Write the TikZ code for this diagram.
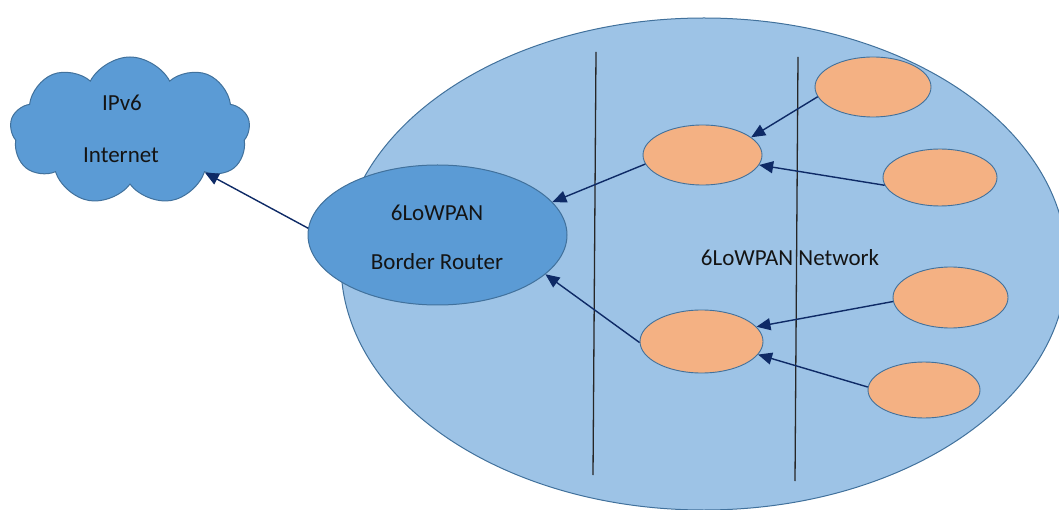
\documentclass[tikz,border=0pt]{standalone}
\usepackage{fontspec}
\setmainfont{Carlito}
\usetikzlibrary{shapes.geometric,shapes.symbols,arrows.meta}
\definecolor{netfill}{HTML}{9DC3E6}
\definecolor{bluefill}{HTML}{5B9BD5}
\definecolor{orangefill}{HTML}{F4B183}
\definecolor{outline}{HTML}{41719C}
\definecolor{navy}{HTML}{0E2A66}
\definecolor{txt}{HTML}{141414}
\begin{document}
\begin{tikzpicture}[x=1pt,y=-1pt,
  netshape/.style={ellipse, draw=outline, fill=netfill, line width=1pt, inner sep=0pt},
  routershape/.style={ellipse, draw=outline, fill=bluefill, line width=1pt, inner sep=0pt},
  cloudshape/.style={cloud, draw=outline, fill=bluefill, line width=1pt, inner sep=0pt, cloud puffs=9, cloud puff arc=125, aspect=1.6},
  sensor/.style={ellipse, draw=outline, fill=orangefill, line width=0.9pt, inner sep=0pt},
  link/.style={draw=navy, line width=1.4pt, -{Triangle[length=14pt,width=12pt]}},
  divider/.style={draw=black!85, line width=1.3pt},
  lbl/.style={font=\fontsize{23}{27}\selectfont, text=txt, inner sep=0pt}]
\clip (0,0) rectangle (1059,510);
% network area
\node[netshape, minimum width=726pt, minimum height=492pt] (net) at (704,264) {};
\node[lbl] (netlabel) at (790,258) {6LoWPAN Network};
% dividers
\coordinate (v1t) at (596,52);
\coordinate (v1b) at (593,475);
\coordinate (v2t) at (798,57);
\coordinate (v2b) at (795,481);
\draw[divider] (v1t) -- (v1b);
\draw[divider] (v2t) -- (v2b);
% cloud
\node[cloudshape, minimum width=240pt, minimum height=148pt] (cloud) at (130,131) {};
\node[lbl] (ipv6) at (122,103) {IPv6};
\node[lbl] (inet) at (121,155) {Internet};
% border router
\node[routershape, minimum width=259pt, minimum height=140pt] (router) at (437.5,235) {};
\node[lbl] (r1) at (437,213) {6LoWPAN};
\node[lbl] (r2) at (437,262) {Border Router};
% sensor nodes
\node[sensor, minimum width=119pt, minimum height=60pt] (A) at (702.5,155) {};
\node[sensor, minimum width=116pt, minimum height=60pt] (B) at (873,87) {};
\node[sensor, minimum width=114pt, minimum height=57pt] (C) at (940,177.5) {};
\node[sensor, minimum width=123pt, minimum height=63pt] (D) at (701.5,341.5) {};
\node[sensor, minimum width=115pt, minimum height=61pt] (E) at (950.5,297.5) {};
\node[sensor, minimum width=112pt, minimum height=56pt] (F) at (924,390) {};
% links
\draw[link] (B.190) -- (A.20);
\draw[link] (C.188) -- (A.350);
\draw[link] (A.189) -- (router.16);
\draw[link] (D.181) -- (router.340);
\draw[link] (E.184) -- (D.15);
\draw[link] (F.177) -- (D.347);
\draw[link] (router.177) -- (cloud.331);
\end{tikzpicture}
\end{document}
